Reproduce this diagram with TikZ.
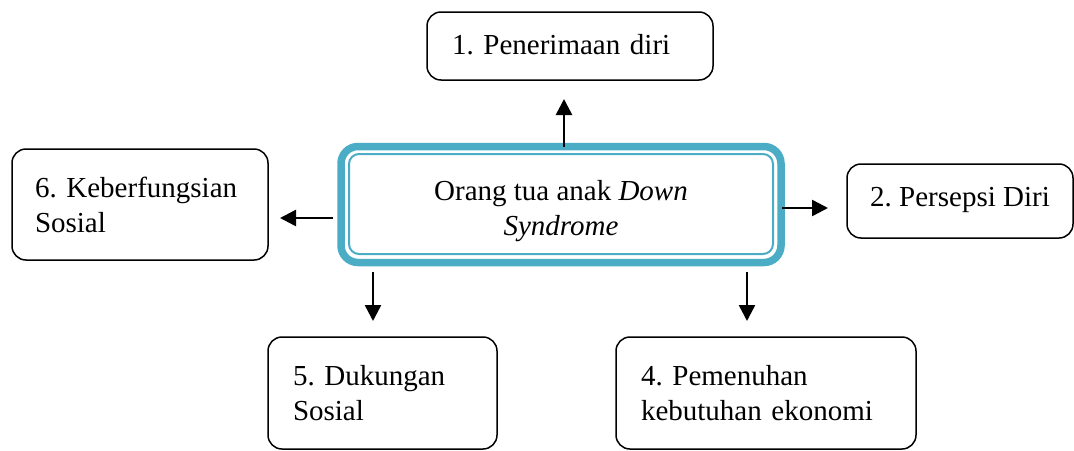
\documentclass[tikz,border=0pt]{standalone}
\usepackage{fontspec}
\setmainfont{Liberation Serif}
\usetikzlibrary{arrows.meta,calc}
\definecolor{aqua}{HTML}{4BACC6}
\frenchspacing
\begin{document}
\begin{tikzpicture}[x=1pt,y=-1pt,
  txt/.style={font=\fontsize{29}{35}\selectfont\frenchspacing},
  box/.style={draw,line width=1.5pt,rounded corners=14pt,outer sep=0pt,align=left,inner ysep=0pt,txt},
  frame/.style={draw=aqua,line width=7.5pt,rounded corners=17pt,outer sep=0pt,minimum width=440pt,minimum height=116pt,inner sep=0pt},
  inframe/.style={draw=aqua,line width=2pt,rounded corners=10pt},
  arr/.style={line width=2.5pt,-{Triangle[length=16pt,width=16pt]}}]
\useasboundingbox (0,0) rectangle (1074,450);
% central frame
\node[frame] (c) at (561,204.5) {};
\draw[inframe] ([shift={(8pt,-7.5pt)}]c.north west) rectangle ([shift={(-8pt,8.5pt)}]c.south east);
\node[txt,align=center,inner sep=0pt] (ct) at (561,211) {Orang tua anak \textit{Down}\\\textit{Syndrome}};
% outer boxes
\node[box,minimum width=286pt,minimum height=68pt,inner xsep=25pt,text width=236pt,text depth=4pt] (b1) at (570,46) {1. Penerimaan diri};
\node[box,minimum width=226pt,minimum height=74pt,inner xsep=0pt,text depth=8pt] (b2) at (960,201) {2. Persepsi Diri};
\node[box,minimum width=300pt,minimum height=112pt,inner xsep=25pt,text width=250pt] (b4) at (766,393) {4. Pemenuhan\\kebutuhan ekonomi};
\node[box,minimum width=229pt,minimum height=112pt,inner xsep=25pt,text width=179pt] (b5) at (382.5,393) {5. Dukungan\\Sosial};
\node[box,minimum width=256pt,minimum height=111pt,inner xsep=23pt,text width=210pt] (b6) at (140,204.5) {6. Keberfungsian\\Sosial};
% connectors
\coordinate (u1) at ([xshift=3pt]c.north);
\coordinate (r1) at ([yshift=-3.5pt]c.east);
\coordinate (l1) at ([yshift=-13.5pt]c.west);
\coordinate (d5) at ([xshift=-188pt]c.south);
\coordinate (d4) at ([xshift=186pt]c.south);
\draw[arr,shorten >=19pt] (u1) -- (u1 |- b1.south);
\draw[arr,shorten <=1pt,shorten >=19pt] (r1) -- (r1 -| b2.west);
\draw[arr,shorten <=8pt,shorten >=12pt] (l1) -- (l1 -| b6.east);
\draw[arr,shorten <=9.5pt,shorten >=16pt] (d5) -- (d5 |- b5.north);
\draw[arr,shorten <=9.5pt,shorten >=16pt] (d4) -- (d4 |- b4.north);
\end{tikzpicture}
\end{document}
